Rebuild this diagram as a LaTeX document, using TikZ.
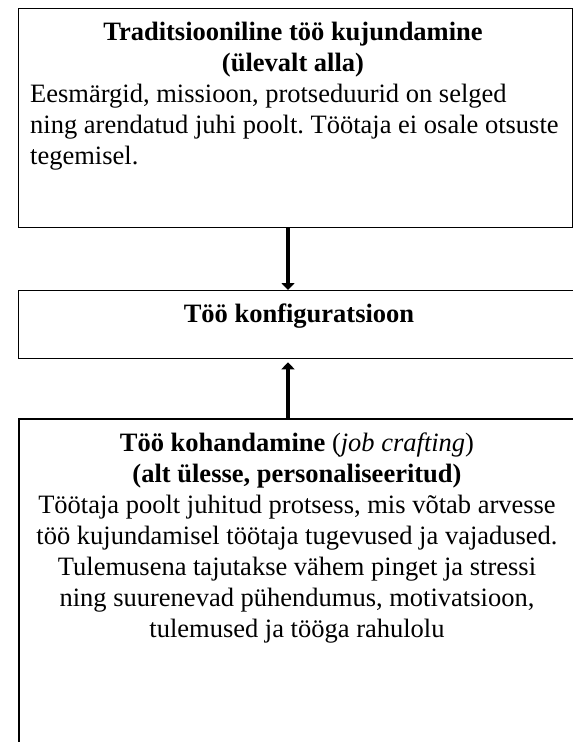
\documentclass[tikz,border=0pt]{standalone}
\usepackage{fontspec}
\setmainfont{Liberation Serif}
\usetikzlibrary{arrows.meta}
\begin{document}
\frenchspacing
\begin{tikzpicture}[x=1pt,y=-1pt,
  boxs/.style={draw=black, line width=1.3pt, rectangle, inner sep=0pt},
  txt/.style={inner sep=0pt, font=\fontsize{26.5}{31}\selectfont},
  arr/.style={line width=4.5pt, -{Triangle[length=7pt,width=13pt]}}]
\useasboundingbox (0,0) rectangle (573,742);
\coordinate (ax) at (288,0);
% top box
\node[boxs, minimum width=554pt, minimum height=219pt, anchor=north west] (top) at (18,8) {};
\node[txt, align=center, anchor=base] (toptitle) at (293,71) {\bfseries Traditsiooniline töö kujundamine\\\bfseries (ülevalt alla)};
\node[txt, align=left, anchor=base west] (topbody) at (30,164) {Eesmärgid, missioon, protseduurid on selged\\ning arendatud juhi poolt. Töötaja ei osale otsuste\\tegemisel.};
% middle box (right edge beyond the page)
\node[boxs, minimum width=562pt, minimum height=68pt, anchor=north west] (mid) at (18,290) {};
\node[txt, font=\fontsize{26.5}{31}\selectfont\bfseries, anchor=base] (midtxt) at (299,322) {Töö konfiguratsioon};
% bottom box (open at bottom and right)
\coordinate (bl) at (19,742);
\coordinate (btl) at (19,419);
\coordinate (btr) at (573,419);
\draw[line width=1.3pt] (bl) -- (btl) -- (btr);
\node[txt, align=center, anchor=base] (bottxt) at (297,637) {\textbf{Töö kohandamine} (\textit{job crafting})\\\textbf{(alt ülesse, personaliseeritud)}\\Töötaja poolt juhitud protsess, mis võtab arvesse\\töö kujundamisel töötaja tugevused ja vajadused.\\Tulemusena tajutakse vähem pinget ja stressi\\ning suurenevad pühendumus, motivatsioon,\\tulemused ja tööga rahulolu};
% arrows
\draw[arr] (ax |- top.south) -- (ax |- mid.north);
\draw[arr, shorten >=3pt] (ax |- btl) -- (ax |- mid.south);
\end{tikzpicture}
\end{document}
